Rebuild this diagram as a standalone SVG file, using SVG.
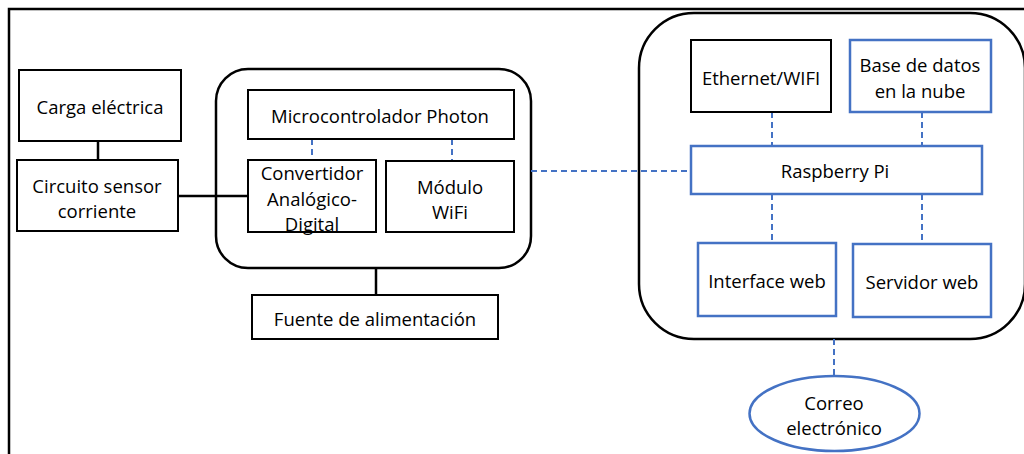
<svg xmlns="http://www.w3.org/2000/svg" width="1024" height="454" viewBox="0 0 1024 454">
<style>
text{font-family:"Open Sans","Noto Sans",sans-serif;font-size:18.5px;fill:#000;text-anchor:middle;dominant-baseline:central}
.bk{fill:#fff;stroke:#000;stroke-width:2}
.bl{fill:#fff;stroke:#4472C4;stroke-width:2.5}
.grp{fill:#fff;stroke:#000;stroke-width:2.5}
.sl{stroke:#000;stroke-width:2.5;fill:none}
.dl{stroke:#4472C4;stroke-width:2;stroke-dasharray:6 4;fill:none}
</style>
<rect width="1024" height="454" fill="#fff"/>
<g id="frame"><path d="M9,454 V9 H1024" class="sl" stroke-width="2"/></g>
<g id="grp-photon"><rect x="216" y="69" width="315" height="199" rx="32" class="grp"/></g>
<g id="grp-raspberry"><rect x="639" y="13" width="386" height="326" rx="55" class="grp"/></g>
<g id="connectors">
<line x1="98" y1="141" x2="98" y2="160" class="sl"/>
<line x1="178" y1="196" x2="248" y2="196" class="sl"/>
<line x1="376" y1="268" x2="376" y2="295" class="sl"/>
<line x1="312" y1="139" x2="312" y2="160" class="dl"/>
<line x1="452" y1="139" x2="452" y2="161" class="dl"/>
<line x1="531" y1="171" x2="691" y2="171" class="dl"/>
<line x1="772" y1="112" x2="772" y2="146" class="dl"/>
<line x1="922" y1="112" x2="922" y2="146" class="dl"/>
<line x1="772" y1="194" x2="772" y2="243" class="dl"/>
<line x1="922" y1="194" x2="922" y2="244" class="dl"/>
<line x1="834" y1="339" x2="834" y2="376" class="dl"/>
</g>
<g id="carga"><rect x="19" y="70" width="162" height="71" class="bk"/><text x="100" y="106">Carga eléctrica</text></g>
<g id="circuito"><rect x="17" y="160" width="161" height="71" class="bk"/><text x="97" y="185">Circuito sensor</text><text x="97" y="210">corriente</text></g>
<g id="micro"><rect x="248" y="90" width="266" height="49" class="bk"/><text x="380" y="115">Microcontrolador Photon</text></g>
<g id="convertidor"><rect x="248" y="160" width="128" height="72" class="bk"/><text x="312" y="172">Convertidor</text><text x="312" y="198">Analógico-</text><text x="312" y="223">Digital</text></g>
<g id="modulo"><rect x="386" y="161" width="128" height="71" class="bk"/><text x="450" y="186">Módulo</text><text x="450" y="211">WiFi</text></g>
<g id="fuente"><rect x="252" y="295" width="246" height="44" class="bk"/><text x="375" y="318">Fuente de alimentación</text></g>
<g id="ethernet"><rect x="691" y="40" width="140" height="72" class="bk"/><text x="761" y="77">Ethernet/WIFI</text></g>
<g id="basedatos"><rect x="850" y="40" width="141" height="72" class="bl"/><text x="920" y="64">Base de datos</text><text x="920" y="90">en la nube</text></g>
<g id="raspberry"><rect x="691" y="146" width="291" height="48" class="bl"/><text x="835" y="170">Raspberry Pi</text></g>
<g id="interface"><rect x="698" y="243" width="138" height="73" class="bl"/><text x="767" y="280">Interface web</text></g>
<g id="servidor"><rect x="853" y="244" width="138" height="73" class="bl"/><text x="922" y="281">Servidor web</text></g>
<g id="correo"><ellipse cx="834.5" cy="413.5" rx="85" ry="37.5" class="bl"/><text x="834" y="402">Correo</text><text x="834" y="427">electrónico</text></g>
</svg>
